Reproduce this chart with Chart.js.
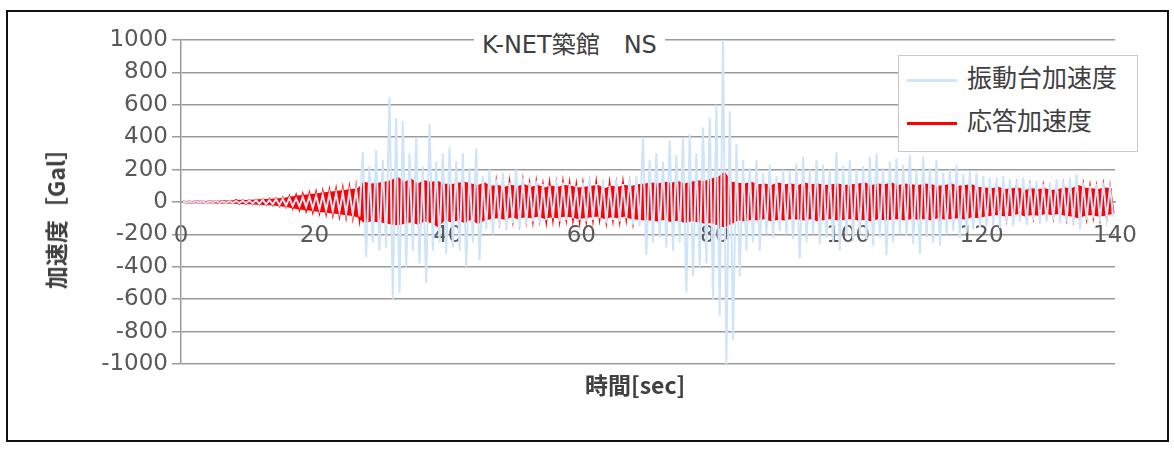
<!DOCTYPE html>
<html>
<head>
<meta charset="utf-8">
<script src="https://cdn.jsdelivr.net/npm/chart.js@4"></script>
<style>
  body { margin: 0; background: #fff; font-family: "DejaVu Sans", "Noto Sans CJK JP", sans-serif; }
  #wrap { position: relative; width: 1174px; height: 451px; }
  #frame { position: absolute; left: 6px; top: 10px; width: 1159px; height: 428px; border: 2px solid #111; }
  #c { position: absolute; left: 0; top: 0; }
  .txt { position: absolute; color: #404040; white-space: nowrap; }
  #title { left: 474px; top: 28px; padding: 0 8px; background: #fff; font-size: 24px; color: #404040; line-height: 34px; }
  #xtitle { left: 585px; top: 367px; font-size: 23px; font-weight: bold; font-family: "Noto Sans CJK JP", sans-serif; }
  #ytitle { left: 55px; top: 213px; font-size: 23px; font-weight: bold; font-family: "Noto Sans CJK JP", sans-serif; transform: translate(-50%, -50%) rotate(-90deg); }
  #legend { position: absolute; left: 898px; top: 55px; width: 238px; height: 95px; border: 1.5px solid #c8c8c8; background: #fff; }
  .li { position: absolute; left: 8px; font-size: 25px; color: #404040; line-height: 34px; font-family: "Noto Sans CJK JP", sans-serif; }
  .sw { display: inline-block; width: 50px; height: 3px; vertical-align: middle; margin-right: 10px; }
</style>
</head>
<body>
<div id="wrap">
  <div id="frame"></div>
  <canvas id="c" width="1174" height="451"></canvas>
  <div id="title" class="txt">K-NET築館　NS</div>
  <div id="xtitle" class="txt">時間[sec]</div>
  <div id="ytitle" class="txt">加速度［Gal］</div>
  <div id="legend">
    <div class="li" style="top:3px"><span class="sw" style="background:#cfe4f7"></span>振動台加速度</div>
    <div class="li" style="top:46px"><span class="sw" style="background:#ff0000"></span>応答加速度</div>
  </div>
</div>
<script>
// 1秒ごとの上下ピーク値
const blueHi = [3,3,4,3,4,5,4,5,6,8,
  10,12,14,12,18,20,25,22,30,35,
  40,45,50,55,60,65,80,310,220,320,
  260,650,520,500,300,400,220,480,250,300,
  340,250,300,210,330,160,200,140,180,120,
  200,150,120,130,110,100,140,120,110,100,
  120,150,110,130,100,140,110,150,160,400,
  260,300,250,380,290,400,420,300,460,520,
  600,1000,560,360,260,210,260,180,230,160,
  200,190,240,280,200,260,230,200,310,220,
  260,200,220,280,300,210,250,270,230,290,
  200,280,210,260,180,200,230,170,190,180,
  160,150,140,160,140,130,150,120,130,110,
  120,140,130,150,170,120,100,110,120,90];
const blueLo = [-3,-4,-3,-5,-4,-5,-6,-5,-7,-8,
  -10,-12,-15,-14,-18,-22,-25,-28,-30,-40,
  -45,-50,-55,-60,-70,-75,-90,-340,-250,-300,
  -280,-600,-560,-400,-300,-380,-500,-300,-250,-320,
  -280,-300,-400,-250,-360,-170,-200,-150,-170,-130,
  -160,-140,-120,-130,-110,-100,-120,-110,-100,-110,
  -120,-110,-100,-130,-110,-120,-100,-140,-150,-330,
  -250,-220,-280,-300,-250,-560,-460,-400,-380,-600,
  -700,-1000,-850,-460,-300,-250,-300,-200,-220,-180,
  -200,-230,-350,-250,-200,-260,-220,-250,-300,-210,
  -240,-200,-230,-270,-220,-330,-250,-200,-210,-260,
  -320,-220,-250,-270,-200,-180,-220,-190,-170,-160,
  -150,-140,-160,-130,-150,-120,-140,-110,-130,-120,
  -110,-130,-120,-140,-170,-110,-100,-120,-100,-90];
const redHi = [2,2,3,2,3,3,4,4,10,8,
  10,12,14,15,18,22,30,35,40,45,
  50,55,60,65,70,75,80,120,110,115,
  120,130,150,120,140,110,130,120,125,110,
  105,115,120,110,100,115,95,100,90,100,
  95,105,90,100,85,95,90,100,95,85,
  90,95,100,80,95,90,100,95,105,110,
  115,110,120,115,125,110,120,130,125,140,
  150,180,120,115,110,120,105,110,100,115,
  105,110,100,115,105,110,100,105,110,100,
  105,110,115,100,110,105,115,100,110,105,
  100,110,105,95,100,110,95,100,105,90,
  85,80,90,75,80,85,70,80,75,80,
  70,75,85,80,100,85,80,75,85,80];
const redLo = [-2,-3,-2,-3,-3,-4,-3,-4,-8,-9,
  -10,-13,-14,-16,-20,-24,-32,-40,-45,-50,
  -55,-60,-65,-70,-75,-80,-90,-125,-115,-120,
  -125,-135,-140,-130,-120,-135,-115,-125,-150,-110,
  -120,-110,-125,-105,-130,-110,-100,-95,-105,-90,
  -100,-90,-95,-85,-100,-90,-95,-85,-90,-100,
  -95,-90,-85,-100,-90,-95,-85,-100,-105,-110,
  -110,-115,-105,-120,-110,-125,-115,-120,-130,-125,
  -140,-150,-130,-110,-115,-105,-110,-100,-115,-105,
  -110,-100,-105,-110,-100,-115,-105,-100,-110,-105,
  -100,-110,-105,-115,-100,-110,-105,-100,-110,-100,
  -105,-100,-110,-95,-105,-100,-95,-105,-90,-95,
  -85,-80,-75,-85,-80,-70,-85,-75,-80,-70,
  -75,-70,-80,-85,-95,-80,-75,-85,-80,-70];
const xTicks = [0, 20, 40, 60, 80, 100, 120, 140];

function toPoints(hi, lo) {
    const pts = [];
    for (let i = 0; i < hi.length; i++) {
        pts.push({ x: i + 0.25, y: hi[i] });
        pts.push({ x: i + 0.75, y: lo[i] });
    }
    return pts;
}
// 応答加速度の帯（上下ピークの包絡）
function envelope(vals) {
    return vals.map((v, i) => ({ x: i + 0.5, y: v }));
}

const tickFont = { family: "'DejaVu Sans', sans-serif", size: 23 };

new Chart(document.getElementById('c'), {
    type: 'line',
    data: {
        datasets: [
            { label: '振動台加速度', data: toPoints(blueHi, blueLo), borderColor: '#cfe4f7', borderWidth: 2, pointRadius: 0, tension: 0 },
            { label: 'env_hi', data: envelope(redHi), borderColor: '#ff0000', borderWidth: 1.5, backgroundColor: '#ff0000', fill: '+1', pointRadius: 0, tension: 0 },
            { label: 'env_lo', data: envelope(redLo), borderColor: '#ff0000', borderWidth: 1.5, pointRadius: 0, tension: 0 },
            { label: '応答加速度', data: toPoints(redHi, redLo), borderColor: '#ff0000', borderWidth: 2.5, pointRadius: 0, tension: 0 }
        ]
    },
    options: {
        responsive: false,
        animation: false,
        layout: { padding: { left: 91, right: 59, top: 40, bottom: 87 } },
        plugins: { legend: { display: false }, tooltip: { enabled: false }, filler: { propagate: false } },
        scales: {
            x: {
                type: 'linear', min: 0, max: 140,
                position: { y: 0 },
                afterBuildTicks: s => { s.ticks = xTicks.map(v => ({ value: v })); },
                grid: { display: false, drawTicks: false },
                border: { color: '#9a9a9a', width: 1.5 },
                ticks: { font: tickFont, color: '#595959', padding: 20, maxRotation: 0 }
            },
            y: {
                min: -1000, max: 1000,
                afterFit: s => { s.width = 90; },
                grid: { color: '#9a9a9a', lineWidth: 1.5, tickLength: 9 },
                border: { color: '#9a9a9a', width: 1.5 },
                ticks: { stepSize: 200, font: tickFont, color: '#595959', padding: 4, callback: v => String(v) }
            }
        }
    }
});
</script>
</body>
</html>
